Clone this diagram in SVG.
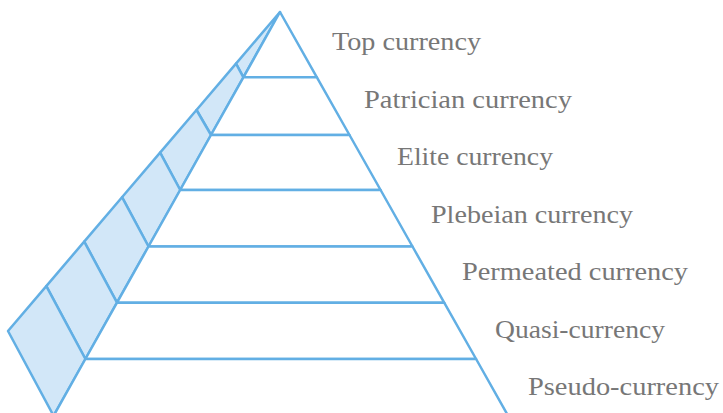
<svg xmlns="http://www.w3.org/2000/svg" width="723" height="413" viewBox="0 0 723 413">
<style>
.front{fill:#ffffff;stroke:#62afe4;stroke-width:2.5;stroke-linejoin:round}
.side{fill:#d2e7f8;stroke:#62afe4;stroke-width:2.5;stroke-linejoin:round}
.lbl{font-family:"Liberation Serif","DejaVu Serif",serif;font-size:25px;fill:#777777}
</style>
<rect width="723" height="413" fill="#ffffff"/>
<g id="level-top">
<polygon class="side" points="280,12 236.0,63.6 243.4,77.3"/>
<polygon class="front" points="280,12 316.9,77.3 243.4,77.3"/>
<text class="lbl" x="332" y="50" textLength="149" lengthAdjust="spacingAndGlyphs">Top currency</text>
</g>
<g id="level-patrician">
<polygon class="side" points="236.0,63.6 243.4,77.3 211.0,135 196.5,110.0"/>
<polygon class="front" points="243.4,77.3 316.9,77.3 349.5,135 211.0,135"/>
<text class="lbl" x="364" y="107.5" textLength="208" lengthAdjust="spacingAndGlyphs">Patrician currency</text>
</g>
<g id="level-elite">
<polygon class="side" points="196.5,110.0 211.0,135 180.2,190 160.1,152.6"/>
<polygon class="front" points="211.0,135 349.5,135 380.6,190 180.2,190"/>
<text class="lbl" x="397" y="165" textLength="156" lengthAdjust="spacingAndGlyphs">Elite currency</text>
</g>
<g id="level-plebeian">
<polygon class="side" points="160.1,152.6 180.2,190 148.5,246.5 122.0,197.2"/>
<polygon class="front" points="180.2,190 380.6,190 412.5,246.5 148.5,246.5"/>
<text class="lbl" x="431" y="222.5" textLength="202" lengthAdjust="spacingAndGlyphs">Plebeian currency</text>
</g>
<g id="level-permeated">
<polygon class="side" points="122.0,197.2 148.5,246.5 117.0,302.7 84.2,241.6"/>
<polygon class="front" points="148.5,246.5 412.5,246.5 444.2,302.7 117.0,302.7"/>
<text class="lbl" x="462" y="280" textLength="226" lengthAdjust="spacingAndGlyphs">Permeated currency</text>
</g>
<g id="level-quasi">
<polygon class="side" points="84.2,241.6 117.0,302.7 85.4,359 46.3,286.1"/>
<polygon class="front" points="117.0,302.7 444.2,302.7 476.1,359 85.4,359"/>
<text class="lbl" x="495" y="337.5" textLength="170" lengthAdjust="spacingAndGlyphs">Quasi-currency</text>
</g>
<g id="level-pseudo">
<polygon class="side" points="46.3,286.1 85.4,359 53.6,415.8 8,331"/>
<polygon class="front" points="85.4,359 476.1,359 508.1,415.8 53.6,415.8"/>
<text class="lbl" x="528" y="395" textLength="191" lengthAdjust="spacingAndGlyphs">Pseudo-currency</text>
</g>
<g id="connectors"></g>
</svg>
